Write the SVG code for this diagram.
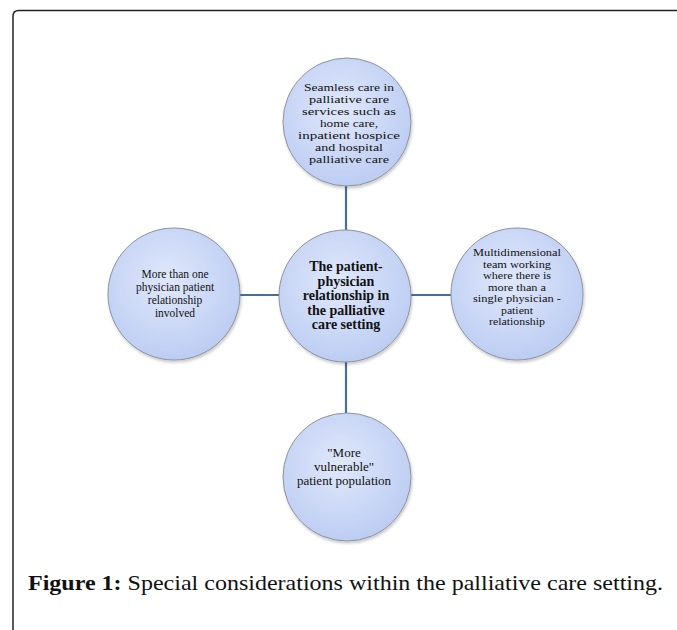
<svg xmlns="http://www.w3.org/2000/svg" width="677" height="630" viewBox="0 0 677 630">
<defs>
<radialGradient id="g" cx="0.45" cy="0.4" r="0.65">
<stop offset="0" stop-color="#e0e8fb"/>
<stop offset="1" stop-color="#bacbf2"/>
</radialGradient>
<filter id="sh" x="-20%" y="-20%" width="140%" height="140%">
<feDropShadow dx="1" dy="2" stdDeviation="1.5" flood-color="#000" flood-opacity="0.22"/>
</filter>
</defs>
<style>
.c{fill:url(#g);stroke:#8d929c;stroke-width:1;filter:url(#sh)}
.t{font-family:"Liberation Serif","Times New Roman",serif;font-size:11.5px;fill:#111;text-anchor:middle}
.tt{font-family:"Liberation Serif","Times New Roman",serif;font-size:10.5px;fill:#111;text-anchor:middle}
.b{font-family:"Liberation Serif","Times New Roman",serif;font-size:14px;font-weight:bold;fill:#111;text-anchor:middle}
.e{stroke:#4b6e94;stroke-width:2.2;fill:none}
.cap{font-family:"Liberation Serif","Times New Roman",serif;font-size:22px;fill:#111}
</style>
<rect width="677" height="630" fill="#fff"/>
<path d="M13 630 V16 Q13 10.5 19 10.5 H677" fill="none" stroke="#222" stroke-width="1.5"/>
<g id="connectors">
<line class="e" x1="346" y1="186" x2="346" y2="231"/>
<line class="e" x1="346" y1="362" x2="346" y2="413"/>
<line class="e" x1="240" y1="295" x2="280" y2="295"/>
<line class="e" x1="411" y1="295" x2="451" y2="295"/>
</g>
<g id="top">
<circle class="c" cx="347" cy="122" r="64"/>
<text class="tt" x="349" y="91" textLength="90" lengthAdjust="spacingAndGlyphs">Seamless care in</text>
<text class="tt" x="349" y="103" textLength="80" lengthAdjust="spacingAndGlyphs">palliative care</text>
<text class="tt" x="349" y="115" textLength="94" lengthAdjust="spacingAndGlyphs">services such as</text>
<text class="tt" x="349" y="127" textLength="58" lengthAdjust="spacingAndGlyphs">home care,</text>
<text class="tt" x="349" y="139" textLength="102" lengthAdjust="spacingAndGlyphs">inpatient hospice</text>
<text class="tt" x="349" y="151" textLength="68" lengthAdjust="spacingAndGlyphs">and hospital</text>
<text class="tt" x="349" y="163" textLength="80" lengthAdjust="spacingAndGlyphs">palliative care</text>
</g>
<g id="center">
<circle class="c" cx="345" cy="296" r="66"/>
<text class="b" x="346" y="271">The patient-</text>
<text class="b" x="346" y="286">physician</text>
<text class="b" x="346" y="300">relationship in</text>
<text class="b" x="346" y="315">the palliative</text>
<text class="b" x="346" y="329">care setting</text>
</g>
<g id="left">
<circle class="c" cx="174" cy="294" r="66"/>
<text class="t" x="175" y="278">More than one</text>
<text class="t" x="175" y="291">physician patient</text>
<text class="t" x="175" y="304">relationship</text>
<text class="t" x="175" y="317">involved</text>
</g>
<g id="right">
<circle class="c" cx="517" cy="294" r="66"/>
<text class="tt" x="517" y="256" textLength="88" lengthAdjust="spacingAndGlyphs">Multidimensional</text>
<text class="tt" x="517" y="267.5" textLength="68" lengthAdjust="spacingAndGlyphs">team working</text>
<text class="tt" x="517" y="279" textLength="68" lengthAdjust="spacingAndGlyphs">where there is</text>
<text class="tt" x="517" y="290.5" textLength="58" lengthAdjust="spacingAndGlyphs">more than a</text>
<text class="tt" x="517" y="302" textLength="88" lengthAdjust="spacingAndGlyphs">single physician -</text>
<text class="tt" x="517" y="313.5" textLength="32" lengthAdjust="spacingAndGlyphs">patient</text>
<text class="tt" x="517" y="325" textLength="56" lengthAdjust="spacingAndGlyphs">relationship</text>
</g>
<g id="bottom">
<circle class="c" cx="347" cy="477" r="64"/>
<text class="t" x="344" y="457" style="font-size:13px">"More</text>
<text class="t" x="344" y="471" style="font-size:13px">vulnerable"</text>
<text class="t" x="344" y="485" style="font-size:13px">patient population</text>
</g>
<text class="cap" x="28" y="590" textLength="635" lengthAdjust="spacingAndGlyphs"><tspan font-weight="bold">Figure 1:</tspan> Special considerations within the palliative care setting.</text>
</svg>
